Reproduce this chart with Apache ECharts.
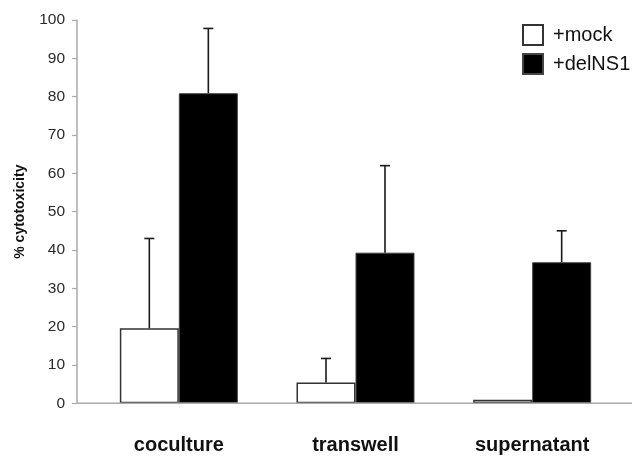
<!DOCTYPE html>
<html>
<head>
<meta charset="utf-8">
<script src="https://cdn.jsdelivr.net/npm/echarts@6/dist/echarts.min.js"></script>
<style>
  html, body { margin: 0; padding: 0; background: #fff; }
  #chart { width: 632px; height: 456px; }
</style>
</head>
<body>
<div id="chart"></div>
<script>
// Conditions and measured cytotoxicity (%)
var categories = ['coculture', 'transwell', 'supernatant'];
var mockValues = [19.6, 5.4, 0.9];
var mockErrors = [23.4, 6.3, 0];
var delNS1Values = [80.9, 39.3, 36.8];
var delNS1Errors = [16.9, 22.7, 8.2];
var yTicks = [0, 10, 20, 30, 40, 50, 60, 70, 80, 90, 100];

var BAR_W = 59;       // px, each bar
var CAP_W = 10;       // px, error-bar cap
var FONT = 'Liberation Sans, Arial, Helvetica, sans-serif';

// Upward-only error bars, shifted onto the left (mock) or right (delNS1) bar
function errorBarSeries(values, errors, side) {
  var data = values.map(function (v, i) { return [i, v, errors[i]]; });
  return {
    type: 'custom',
    silent: true,
    z: 5,
    renderItem: function (params, api) {
      var err = api.value(2);
      if (!err) return null;
      var base = api.coord([api.value(0), api.value(1)]);
      var top = api.coord([api.value(0), api.value(1) + err]);
      var x = base[0] + side * BAR_W / 2;
      var style = { stroke: '#1a1a1a', lineWidth: 1.6 };
      return {
        type: 'group',
        children: [
          { type: 'line', shape: { x1: x, y1: base[1], x2: x, y2: top[1] }, style: style },
          { type: 'line', shape: { x1: x - CAP_W / 2, y1: top[1], x2: x + CAP_W / 2, y2: top[1] }, style: style }
        ]
      };
    },
    encode: { x: 0, y: 1 },
    data: data
  };
}

var chart = echarts.init(document.getElementById('chart'), null, { renderer: 'canvas' });

var option = {
  animation: false,
  backgroundColor: '#fff',
  grid: { left: 90.5, right: 11.5, top: 20, bottom: 52.7 },
  legend: {
    orient: 'vertical',
    left: 522,
    top: 24,
    padding: 0,
    itemWidth: 20,
    itemHeight: 20,
    itemGap: 7,
    icon: 'rect',
    textStyle: { fontFamily: FONT, fontSize: 20, color: '#111', padding: [0, 0, 0, 5] },
    data: ['+mock', '+delNS1']
  },
  xAxis: {
    type: 'category',
    data: categories,
    boundaryGap: true,
    axisLine: { show: false },
    axisTick: { show: false },
    axisLabel: {
      margin: 32,
      fontFamily: FONT,
      fontSize: 20,
      fontWeight: 'bold',
      color: '#111'
    }
  },
  yAxis: {
    type: 'value',
    min: yTicks[0],
    max: yTicks[yTicks.length - 1],
    interval: yTicks[1] - yTicks[0],
    offset: 13.5,
    name: '% cytotoxicity',
    nameLocation: 'middle',
    nameGap: 50,
    nameRotate: 90,
    nameTextStyle: { fontFamily: FONT, fontSize: 14, fontWeight: 'bold', color: '#111' },
    axisLine: { show: true, lineStyle: { color: '#aaa', width: 1.5 } },
    axisTick: { show: true, inside: false, length: 5, lineStyle: { color: '#aaa', width: 1.2 } },
    axisLabel: { margin: 12, fontFamily: FONT, fontSize: 15.5, color: '#2a2a2a' },
    splitLine: { show: false }
  },
  series: [
    {
      name: '+mock',
      type: 'bar',
      barWidth: BAR_W,
      barGap: '0%',
      itemStyle: { color: '#fff', borderColor: '#333', borderWidth: 1.5 },
      data: mockValues
    },
    {
      name: '+delNS1',
      type: 'bar',
      barWidth: BAR_W,
      barGap: '0%',
      itemStyle: { color: '#000', borderColor: '#444', borderWidth: 1 },
      data: delNS1Values
    },
    errorBarSeries(mockValues, mockErrors, -1),
    errorBarSeries(delNS1Values, delNS1Errors, 1)
  ]
};

chart.setOption(option);

// Baseline: runs from the y-axis line to the right edge of the canvas
var y0 = chart.convertToPixel({ yAxisIndex: 0 }, 0);
var axisX = option.grid.left - option.yAxis.offset;
chart.setOption({
  graphic: [{
    type: 'line',
    z: 10,
    shape: { x1: axisX, y1: y0, x2: 632, y2: y0 },
    style: { stroke: '#aaa', lineWidth: 1.5 }
  }]
});
</script>
</body>
</html>
